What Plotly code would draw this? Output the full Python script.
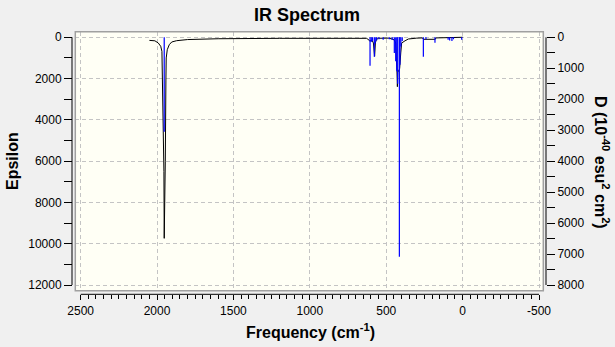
import plotly.graph_objects as go

# ---- data ----
# broadened IR spectrum (left axis, Epsilon)
curve_freq = [2050, 2014, 1992, 1976, 1968, 1965, 1959.5, 1955, 1953, 1951, 1946, 1942, 1940,
              1933, 1920, 1904, 1872, 1800, 1600, 1200, 800, 700, 628, 621, 612, 606, 599,
              591, 584, 580, 576, 571, 565, 552, 487, 461, 447, 438, 434, 430, 427, 424,
              420, 416, 412, 405, 399, 377, 355, 300, 262, 257, 200, 179, 175, 150, 100,
              70, 30, 0]
curve_eps = [150, 170, 276, 436, 680, 2070, 6030, 6500, 9740, 6500, 6030, 2070, 1000,
             600, 358, 228, 165, 110, 70, 50, 45, 45, 50, 82, 170, 194, 135,
             170, 276, 920, 920, 276, 116, 48, 40, 82, 135, 276, 760, 1600, 2393, 1600,
             1650, 1600, 1500, 760, 276, 170, 82, 40, 30, 97, 97, 97, 30, 25, 40,
             35, 30, 0]

# stick intensities (right axis, D in 10^-40 esu^2 cm^2)
stick_freq = [1953, 606, 598, 590, 578, 572, 563, 548, 520, 480, 461, 447, 438, 431,
              425, 414, 410, 404, 395, 257, 240, 181, 95, 85, 70, 60, 6]
stick_D = [3047, 917, 150, 120, 627, 200, 100, 60, 80, 60, 90, 507, 775, 1100,
           1500, 7087, 885, 300, 120, 630, 60, 173, 80, 100, 120, 60, 77]

x_ticks = [2500, 2000, 1500, 1000, 500, 0, -500]
eps_ticks = [0, 2000, 4000, 6000, 8000, 10000, 12000]
d_ticks = [0, 1000, 2000, 3000, 4000, 5000, 6000, 7000, 8000]

# ---- layout geometry (pixels of a 615x347 page) ----
W, H = 615, 347
px = lambda x: x / W
py = lambda y: (H - y) / H

FONT = "Liberation Sans, Arial, sans-serif"

# build stick segments
sx, sy = [], []
for f, d in zip(stick_freq, stick_D):
    sx += [f, f, None]
    sy += [0, d, None]

fig = go.Figure()
fig.add_trace(go.Scatter(x=curve_freq, y=curve_eps, mode="lines",
                         line=dict(color="black", width=1), xaxis="x", yaxis="y",
                         showlegend=False, hoverinfo="skip"))
fig.add_trace(go.Scatter(x=sx, y=sy, mode="lines",
                         line=dict(color="#0000ff", width=1.2), xaxis="x", yaxis="y2",
                         showlegend=False, hoverinfo="skip"))

x_left, x_right = 75.3, 543.3
y_top, y_bot = 31.7, 290.7

grid = dict(showgrid=True, gridcolor="#c4c4c4", gridwidth=1, griddash="4px,3px")
tickfont = dict(family=FONT, size=12, color="black")

fig.update_layout(
    width=W, height=H,
    margin=dict(l=0, r=0, t=0, b=0, autoexpand=False),
    showlegend=False,
    paper_bgcolor="#f0f0f0",
    plot_bgcolor="#fffff5",
    xaxis=dict(domain=[px(x_left), px(x_right)], range=[2535, -528],
               anchor="free", position=py(294.3), automargin=False,
               tickvals=x_ticks, ticktext=[str(v) for v in x_ticks],
               ticks="outside", ticklen=5, tickwidth=1, tickcolor="black",
               minor=dict(dtick=50, tick0=0, ticks="outside", ticklen=4,
                          tickwidth=1, tickcolor="black", showgrid=False),
               showline=False, zeroline=False, tickfont=tickfont, **grid),
    yaxis=dict(domain=[py(y_bot), py(y_top)], range=[12276, -271],
               anchor="free", position=px(72), automargin=False,
               tickvals=eps_ticks, ticktext=[str(v) for v in eps_ticks],
               ticks="outside", ticklen=8, tickwidth=1, tickcolor="black",
               minor=dict(dtick=1000, tick0=0, ticks="outside", ticklen=8,
                          tickwidth=1, tickcolor="black", showgrid=False),
               showline=False, zeroline=False, tickfont=tickfont, **grid),
    yaxis2=dict(overlaying="y", side="right", range=[12276 / 1.5, -271 / 1.5],
                anchor="free", position=px(546), automargin=False,
                tickvals=d_ticks, ticktext=[str(v) for v in d_ticks],
                ticks="outside", ticklen=8, tickwidth=1, tickcolor="black",
                minor=dict(dtick=500, tick0=0, ticks="outside", ticklen=8,
                           tickwidth=1, tickcolor="black", showgrid=False),
                showline=False, zeroline=False, showgrid=False, tickfont=tickfont),
    shapes=[
        # plot-area border
        dict(type="rect", xref="paper", yref="paper",
             x0=px(x_left), x1=px(x_right), y0=py(y_bot), y1=py(y_top),
             line=dict(color="#a0a0a0", width=1.5), layer="above"),
        # axis lines spanning the tick range
        dict(type="line", xref="paper", yref="y", x0=px(72), x1=px(72),
             y0=eps_ticks[0], y1=eps_ticks[-1], line=dict(color="black", width=1)),
        dict(type="line", xref="paper", yref="y2", x0=px(546), x1=px(546),
             y0=d_ticks[0], y1=d_ticks[-1], line=dict(color="black", width=1)),
        dict(type="line", xref="x", yref="paper", x0=x_ticks[0], x1=x_ticks[-1],
             y0=py(294.3), y1=py(294.3), line=dict(color="black", width=1)),
    ],
    annotations=[
        dict(text="<b>IR Spectrum</b>", xref="paper", yref="paper",
             x=px(307), y=py(15), showarrow=False, xanchor="center", yanchor="middle",
             font=dict(family=FONT, size=18, color="black")),
        dict(text="<b>Frequency (cm<sup>-1</sup>)</b>", xref="paper", yref="paper",
             x=px(310), y=py(331), showarrow=False, xanchor="center", yanchor="middle",
             font=dict(family=FONT, size=16, color="black")),
        dict(text="<b>Epsilon</b>", xref="paper", yref="paper",
             x=px(12), y=py(161), showarrow=False, xanchor="center", yanchor="middle",
             textangle=-90, font=dict(family=FONT, size=16, color="black")),
        dict(text="<b>D (10<sup>-40</sup> esu<sup>2</sup> cm<sup>2</sup>)</b>",
             xref="paper", yref="paper",
             x=px(602), y=py(162), showarrow=False, xanchor="center", yanchor="middle",
             textangle=90, font=dict(family=FONT, size=16, color="black")),
    ],
)

fig.write_html("out.html")
